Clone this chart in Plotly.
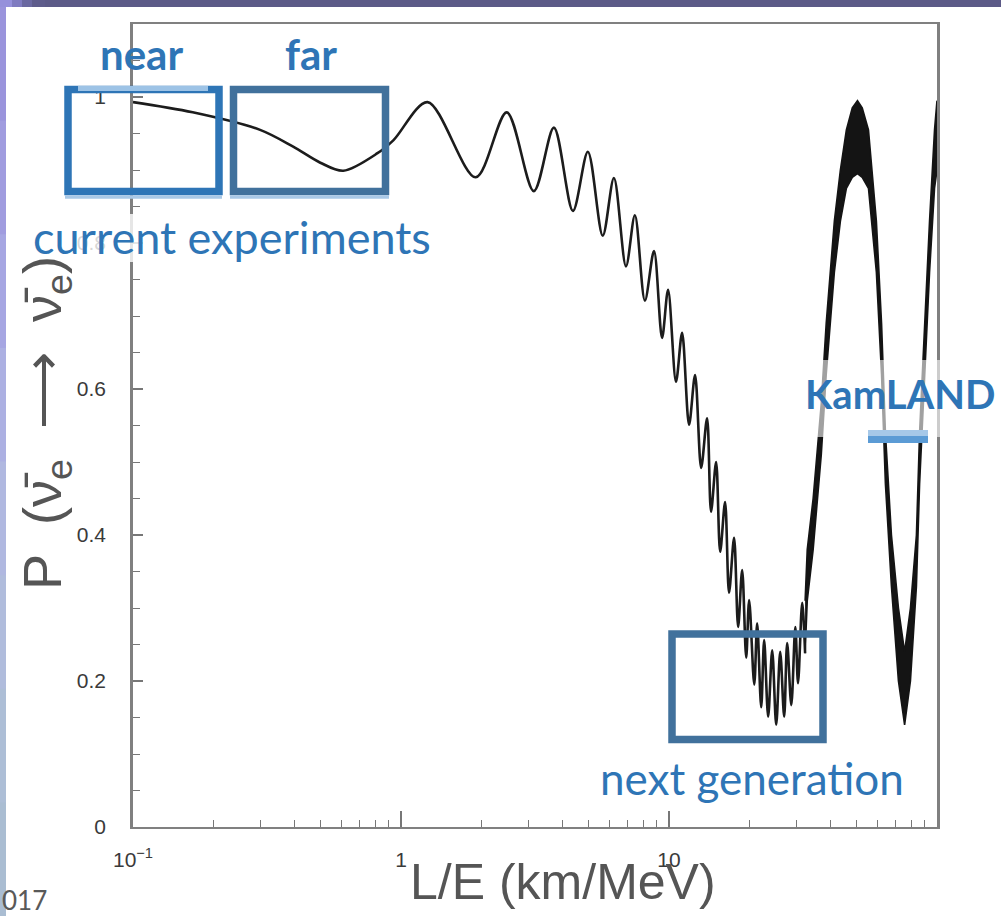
import plotly.graph_objects as go

# ---------------- data ----------------
# main curve: smooth part + resolved oscillation extrema (L/E in km/MeV, P)
le_curve = [0.100, 0.167, 0.298, 0.396, 0.500, 0.609, 0.817, 0.938, 1.256, 1.90,
            2.48, 3.13, 3.72, 4.38, 4.98, 5.66, 6.23, 6.91, 7.46, 8.13,
            8.79, 9.42, 9.92, 10.62, 11.19, 11.88, 12.51, 13.18, 13.87, 14.35,
            14.99, 15.52, 16.19, 16.75, 17.49, 18.11, 18.75, 19.41, 19.91, 20.80,
            21.33, 22.08, 22.65, 23.44, 24.27, 25.12, 26.0, 26.9, 27.6, 28.6,
            29.6, 30.3, 31.4, 32.2]
p_curve = [0.993, 0.979, 0.955, 0.932, 0.910, 0.899, 0.923, 0.941, 0.993, 0.890,
           0.979, 0.871, 0.958, 0.844, 0.925, 0.810, 0.889, 0.768, 0.838, 0.721,
           0.789, 0.670, 0.736, 0.610, 0.677, 0.551, 0.619, 0.492, 0.560, 0.432,
           0.500, 0.377, 0.445, 0.321, 0.396, 0.274, 0.352, 0.232, 0.311, 0.195,
           0.279, 0.164, 0.256, 0.151, 0.242, 0.140, 0.240, 0.151, 0.252, 0.167,
           0.274, 0.197, 0.307, 0.238]

# unresolved fast oscillations at large L/E: upper / lower envelope of the band
band_le = [32.2, 32.8, 34.5, 37.0, 38.6, 41.4, 43.6, 45.9, 48.3, 50.5, 52.6,
           55.5, 59.4, 62.1, 64.2, 67.6, 71.8, 75.7, 79.6, 83.8, 86.1,
           89.8, 93.8, 97.9, 100.0]
band_hi = [0.31, 0.38, 0.45, 0.58, 0.69, 0.83, 0.90, 0.955, 0.985, 0.995, 0.985,
           0.955, 0.83, 0.69, 0.54, 0.40, 0.30, 0.24, 0.30, 0.40, 0.54,
           0.69, 0.83, 0.955, 0.995]
band_lo = [0.238, 0.31, 0.38, 0.51, 0.62, 0.76, 0.83, 0.875, 0.89, 0.895, 0.89,
           0.875, 0.76, 0.62, 0.47, 0.33, 0.20, 0.14, 0.20, 0.33, 0.47,
           0.62, 0.76, 0.875, 0.90]

y_tick_vals = [0, 0.2, 0.4, 0.6, 0.8, 1.0]
y_tick_text = ["0", "0.2", "0.4", "0.6", "0.8", "1"]
y_minor_vals = [0.05, 0.1, 0.15, 0.25, 0.3, 0.35, 0.45, 0.5, 0.55, 0.65, 0.7,
                0.75, 0.85, 0.9, 0.95, 1.05]
x_tick_vals = [0.1, 1, 10]
x_tick_text = ["10<sup>\u22121</sup>", "1", "10"]
x_minor_vals = [0.2, 0.3, 0.4, 0.5, 0.6, 0.7, 0.8, 0.9,
                2, 3, 4, 5, 6, 7, 8, 9,
                20, 30, 40, 50, 60, 70, 80, 90]

# ---------------- geometry ----------------
W, H = 1001, 916
L, R, T, B = 133, 937, 24, 827


def px(x):
    return (x - L) / (R - L)


def py(y):
    return (B - y) / (B - T)


BLUE = "#2E75B6"
STEEL = "#41719C"
LIGHT = "#9DC3E6"
INK = "#141414"

fig = go.Figure()
fig.add_trace(go.Scatter(x=band_le, y=band_lo, mode="lines",
                         line=dict(color=INK, width=1.6),
                         hoverinfo="skip", showlegend=False))
fig.add_trace(go.Scatter(x=band_le, y=band_hi, mode="lines", fill="tonexty",
                         fillcolor=INK,
                         line=dict(color=INK, width=1.6),
                         hoverinfo="skip", showlegend=False))
fig.add_trace(go.Scatter(x=le_curve, y=p_curve, mode="lines",
                         line=dict(color="#1c1c1c", width=2.6, shape="spline",
                                   smoothing=0.9),
                         hoverinfo="skip", showlegend=False))

axis_font = dict(family="Liberation Sans, Arial, sans-serif", color="#3a3a3a")

fig.update_layout(
    width=W, height=H,
    margin=dict(l=L, r=W - R, t=T, b=H - B),
    paper_bgcolor="white", plot_bgcolor="white",
    showlegend=False,
    xaxis=dict(type="log", range=[-1, 2],
               tickmode="array", tickvals=x_tick_vals, ticktext=x_tick_text,
               ticks="inside", ticklen=16, tickwidth=1.5, tickcolor="#777",
               showline=True, linecolor="#808080", linewidth=2, mirror=True,
               showgrid=False, zeroline=False,
               tickfont=dict(size=21, **axis_font),
               ticklabelstandoff=13,
               minor=dict(tickmode="array", tickvals=x_minor_vals,
                          ticks="inside", ticklen=7, tickwidth=1.3,
                          tickcolor="#777", showgrid=False)),
    yaxis=dict(range=[0, 1.1],
               tickmode="array", tickvals=y_tick_vals, ticktext=y_tick_text,
               ticks="inside", ticklen=10, tickwidth=1.5, tickcolor="#777",
               showline=True, linecolor="#808080", linewidth=2.5, mirror=True,
               showgrid=False, zeroline=False,
               tickfont=dict(size=21, **axis_font),
               ticklabelstandoff=20,
               minor=dict(tickmode="array", tickvals=y_minor_vals,
                          ticks="inside", ticklen=7, tickwidth=1.3,
                          tickcolor="#777", showgrid=False)),
)

shapes = []


def rect(x0, y0, x1, y1, fill, opacity=1.0, layer="above"):
    shapes.append(dict(type="rect", xref="paper", yref="paper",
                       x0=px(x0), x1=px(x1), y0=py(y1), y1=py(y0),
                       fillcolor=fill, line=dict(width=0), opacity=opacity,
                       layer=layer))


def box(x0, y0, x1, y1, color, width=7.5):
    shapes.append(dict(type="rect", xref="paper", yref="paper",
                       x0=px(x0), x1=px(x1), y0=py(y1), y1=py(y0),
                       line=dict(color=color, width=width),
                       fillcolor="rgba(0,0,0,0)", layer="above"))


def hline(x0, x1, y, color, width):
    shapes.append(dict(type="line", xref="paper", yref="paper",
                       x0=px(x0), x1=px(x1), y0=py(y), y1=py(y),
                       line=dict(color=color, width=width), layer="above"))


# white translucent text-box backgrounds
rect(28, 214, 436, 262, "white", 0.8)
rect(800, 360, 1001, 437, "white", 0.6)

# slide decorations: top bar and left strip (gradients approximated)
top_cols = ["#9590DB", "#7F7BC0", "#6A68A0", "#5E5C8B", "#5C5A87"]
seg = [0, 12, 22, 32, 45, 1001]
for i, c in enumerate(top_cols):
    rect(seg[i], 0, seg[i + 1], 7, c)
left_cols = ["#9A94DC", "#A09CDF", "#A6A6E2", "#ACB0E2", "#B0B8E0",
             "#B0BCDC", "#ADBED6", "#AABDD2"]
n = len(left_cols)
for i, c in enumerate(left_cols):
    rect(0, 7 + i * (H - 7) / n, 6, 7 + (i + 1) * (H - 7) / n + 1, c)

# highlight boxes
box(68, 89.5, 219, 191.5, BLUE)
box(233.5, 89.5, 385.5, 191.5, STEEL)
box(672, 634, 823, 739.5, STEEL)
hline(78, 208, 88.5, LIGHT, 5)
hline(65, 222, 197, "#A9C8E6", 3.5)
hline(230, 389, 197, "#A9C8E6", 3.5)
# KamLAND underline bar
rect(868, 430, 928, 437, "#A6C8E8")
rect(868, 436, 928, 443, "#5B9BD5")

fig.update_layout(shapes=shapes)

ann = []


def text(t, x, y, size, color, family="Lato, sans-serif", bold=False,
         xanchor="center", angle=0):
    ann.append(dict(text=("<b>%s</b>" % t) if bold else t,
                    xref="paper", yref="paper", x=px(x), y=py(y),
                    xanchor=xanchor, yanchor="middle", showarrow=False,
                    textangle=angle,
                    font=dict(family=family, size=size, color=color)))


text("near", 141, 54, 42, BLUE, bold=True)
text("far", 311, 54, 42, BLUE, bold=True)
text("current experiments", 232, 237, 45, BLUE)
text("next generation", 752, 778, 44, BLUE)
text("KamLAND", 900, 394, 40, BLUE, bold=True)
text("017", 0, 900, 26, "#595959", xanchor="left")
text("P  (\u03bd\u0304<sub>e</sub>  \u27f6  \u03bd\u0304<sub>e</sub>)", 46, 423, 54,
     "#555555", family="Liberation Sans, Arial, sans-serif", angle=-90)
text("L/E (km/MeV)", 563, 882, 50, "#555555",
     family="Liberation Sans, Arial, sans-serif")

fig.update_layout(annotations=ann)

fig.write_html("out.html",
               config={"displayModeBar": False},
               post_script="document.body.style.margin='0';"
                           "document.body.style.padding='0';"
                           "document.documentElement.style.overflow='hidden';")
